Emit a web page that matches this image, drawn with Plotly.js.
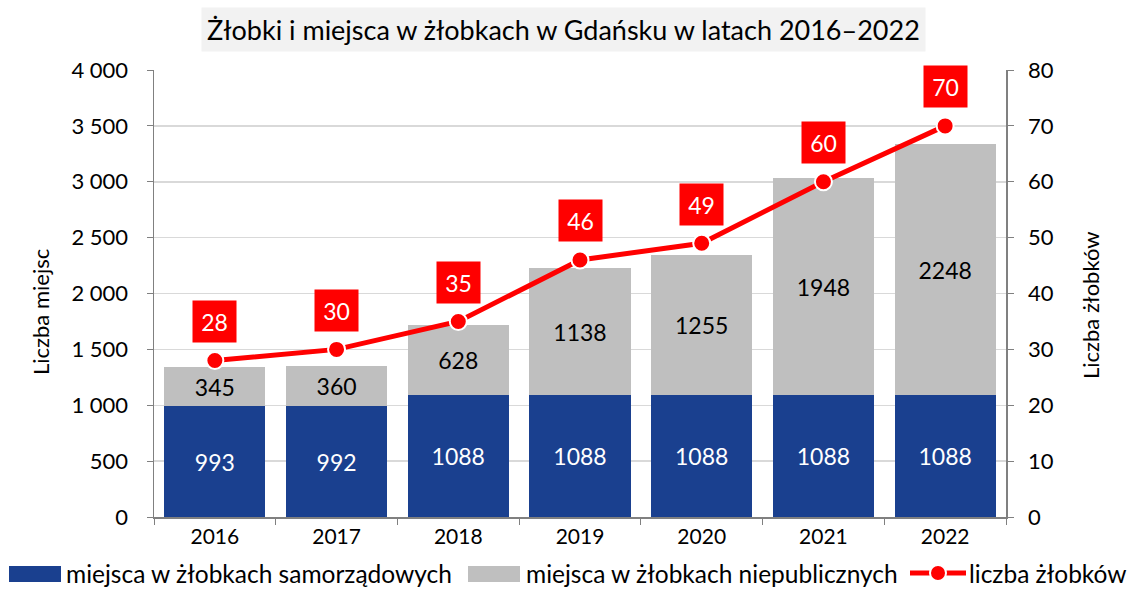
<!DOCTYPE html>
<html><head><meta charset="utf-8">
<script src="https://cdn.plot.ly/plotly-3.0.1.min.js"></script>
<style>body{margin:0;background:#fff}#c{width:1128px;height:589px}</style>
</head><body><div id="c"></div>
<script>
const years = ['2016','2017','2018','2019','2020','2021','2022'];
const samorzadowe = [993, 992, 1088, 1088, 1088, 1088, 1088];
const niepubliczne = [345, 360, 628, 1138, 1255, 1948, 2248];
const liczbaZlobkow = [28, 30, 35, 46, 49, 60, 70];
const seriesNames = ['miejsca w żłobkach samorządowych', 'miejsca w żłobkach niepublicznych', 'liczba żłobków'];
const colors = ['#1a408f', '#bfbfbf', '#ff0000'];

const F = 'Lato, "Open Sans", sans-serif';
const traces = [
  {type:'bar', name:seriesNames[0], x:years, y:samorzadowe,
   marker:{color:colors[0]}, text:samorzadowe.map(String), textposition:'inside',
   insidetextanchor:'middle', textfont:{color:'#ffffff', size:23, family:F}, hoverinfo:'none'},
  {type:'bar', name:seriesNames[1], x:years, y:niepubliczne,
   marker:{color:colors[1]}, text:niepubliczne.map(String), textposition:'inside',
   insidetextanchor:'middle', textfont:{color:'#000000', size:23, family:F}, hoverinfo:'none'},
  {type:'scatter', mode:'lines+markers', name:seriesNames[2], x:years, y:liczbaZlobkow, yaxis:'y2',
   line:{color:colors[2], width:5}, marker:{color:colors[2], size:17, line:{color:'#ffffff', width:2}}, hoverinfo:'none'}
];

// pixel -> paper helpers (plot area: x 154..1006, y 70..517)
const L=154, R=1006, T=70, B=517;
const px = v => (v-L)/(R-L);
const py = v => (B-v)/(B-T);

const annotations = liczbaZlobkow.map((v,i)=>({
  x:i, y:v, xref:'x', yref:'y2', text:String(v), showarrow:false, yshift:39,
  bgcolor:'#ff0000', font:{color:'#ffffff', size:23, family:F}, width:43, height:41, borderpad:0
}));
annotations.push({x:px(563), y:py(30), xref:'paper', yref:'paper', xanchor:'center', yanchor:'middle',
  text:'Żłobki i miejsca w żłobkach w Gdańsku w latach 2016–2022', showarrow:false,
  bgcolor:'#f2f2f2', borderpad:5, font:{size:27, color:'#000', family:F}});
annotations.push({x:px(40), y:py(312), xref:'paper', yref:'paper', xanchor:'center', yanchor:'middle',
  text:'Liczba miejsc', textangle:-90, showarrow:false, font:{size:22, family:F}});
annotations.push({x:px(1090), y:py(305), xref:'paper', yref:'paper', xanchor:'center', yanchor:'middle',
  text:'Liczba żłobków', textangle:-90, showarrow:false, font:{size:22, family:F}});

// custom legend
const legY = py(573);
const legTextX = [65, 525, 968];
seriesNames.forEach((n,i)=>annotations.push({x:px(legTextX[i]), y:legY, xref:'paper', yref:'paper',
  xanchor:'left', yanchor:'middle', text:n, showarrow:false, borderpad:0, font:{size:24.5, family:F, color:'#000'}}));
const shapes = [
  {type:'rect', xref:'paper', yref:'paper', x0:px(9), x1:px(61), y0:py(582), y1:py(566), fillcolor:colors[0], line:{width:0}},
  {type:'rect', xref:'paper', yref:'paper', x0:px(468), x1:px(520), y0:py(582), y1:py(566), fillcolor:colors[1], line:{width:0}},
  {type:'line', xref:'paper', yref:'paper', x0:px(910), x1:px(966), y0:legY, y1:legY, line:{color:colors[2], width:5}},
  {type:'circle', xref:'paper', yref:'paper', xsizemode:'pixel', ysizemode:'pixel', xanchor:px(938), yanchor:legY,
   x0:-8, x1:8, y0:-8, y1:8, fillcolor:colors[2], line:{color:'#ffffff', width:2}}
];

const layout = {
  width:1128, height:589, margin:{l:L, r:1128-R, t:T, b:589-B, autoexpand:false},
  paper_bgcolor:'#fff', plot_bgcolor:'#fff',
  barmode:'stack', bargap:0.17, separators:', ',
  font:{family:F, size:22, color:'#000'},
  showlegend:false,
  xaxis:{type:'category', showline:true, linecolor:'#808080', linewidth:1.5, ticks:'outside', tickson:'boundaries',
    ticklen:6, tickcolor:'#808080', tickfont:{size:21}, showgrid:false},
  yaxis:{range:[0,4000], dtick:500, tickformat:',d', showline:true, linecolor:'#808080', linewidth:1.5,
    ticks:'outside', ticklen:6, tickcolor:'#808080', gridcolor:'#d9d9d9', gridwidth:1.5, zeroline:false,
    ticklabelstandoff:14},
  yaxis2:{range:[0,80], dtick:10, overlaying:'y', side:'right', showline:true, linecolor:'#808080', linewidth:1.5,
    ticks:'outside', ticklen:6, tickcolor:'#808080', showgrid:false, zeroline:false, ticklabelstandoff:10},
  annotations:annotations, shapes:shapes
};
Plotly.newPlot('c', traces, layout, {displayModeBar:false, staticPlot:true});
</script></body></html>
